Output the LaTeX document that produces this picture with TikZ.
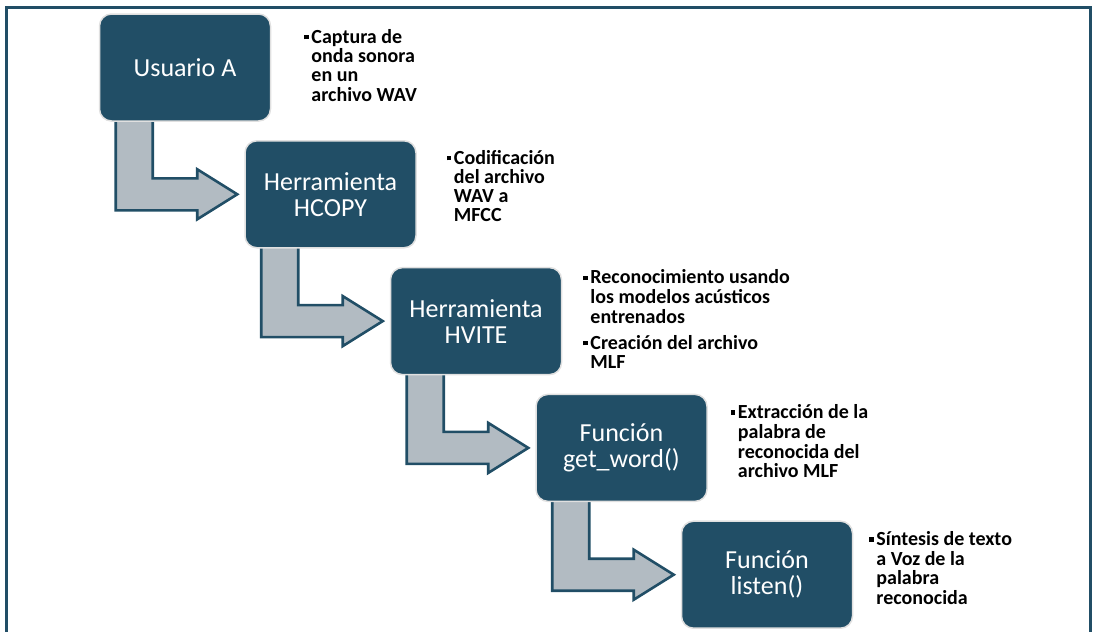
\documentclass[tikz,border=0pt]{standalone}
\usepackage{fontspec}
\setmainfont{Carlito}
\usetikzlibrary{positioning,calc,backgrounds}
\definecolor{hmmblue}{RGB}{33,78,102}
\definecolor{hmmgray}{RGB}{178,187,194}
\newcommand{\vineta}{\makebox[7pt][l]{\raisebox{3.8pt}{\rule{4.4pt}{4.4pt}}}}

\begin{document}
\begin{tikzpicture}[x=1pt,y=1pt,
  paso/.style={fill=hmmblue,draw=black!12,line width=1.5pt,rounded corners=12pt,minimum width=171pt,minimum height=107pt,align=center,text=white,font=\fontsize{26}{26}\selectfont},
  nota/.style={anchor=base west,inner sep=0pt,font=\bfseries\fontsize{20}{19}\selectfont},
  flecha/.style={draw=hmmblue,fill=hmmgray,line width=2.6pt,line join=miter}
]
  \useasboundingbox (0,0) rectangle (1093,-632);
  \draw[hmmblue,line width=3pt] (6,-632) -- (6,-7) -- (1090,-7) -- (1090,-632);

  \node[paso] (usr) at (185,-67.5) {Usuario A};
  \node[paso] (hcopy) at ([xshift=145.5pt,yshift=-126.8pt]usr.center) {Herramienta\\HCOPY};
  \node[paso] (hvite) at ([xshift=145.5pt,yshift=-126.8pt]hcopy.center) {Herramienta\\HVITE};
  \node[paso] (getw) at ([xshift=145.5pt,yshift=-126.8pt]hvite.center) {Función\\get\_word()};
  \node[paso] (listen) at ([xshift=145.5pt,yshift=-126.8pt]getw.center) {Función\\listen()};

  \node[nota] (n1) at ([xshift=33pt,yshift=-30pt]usr.north east)
    {\begin{tabular}[t]{@{}l@{}l@{}}\vineta & Captura de\\ & onda sonora\\ & en un\\ & archivo WAV\end{tabular}};
  \node[nota] (n2) at ([xshift=30pt,yshift=-24pt]hcopy.north east)
    {\begin{tabular}[t]{@{}l@{}l@{}}\vineta & Codificación\\ & del archivo\\ & WAV a\\ & MFCC\end{tabular}};
  \node[nota] (n3) at ([xshift=21pt,yshift=-17pt]hvite.north east)
    {\begin{tabular}[t]{@{}l@{}l@{}}\vineta & Reconocimiento usando\\ & los modelos acústicos\\ & entrenados\\[6pt]
     \vineta & Creación del archivo\\ & MLF\end{tabular}};
  \node[nota] (n4) at ([xshift=23pt,yshift=-25pt]getw.north east)
    {\begin{tabular}[t]{@{}l@{}l@{}}\vineta & Extracción de la\\ & palabra de\\ & reconocida del\\ & archivo MLF\end{tabular}};
  \node[nota] (n5) at ([xshift=16pt,yshift=-25pt]listen.north east)
    {\begin{tabular}[t]{@{}l@{}l@{}}\vineta & Síntesis de texto\\ & a Voz de la\\ & palabra\\ & reconocida\end{tabular}};

  % flechas en L entre pasos
  \begin{scope}[on background layer]
    \foreach \a/\b in {usr/hcopy,hcopy/hvite,hvite/getw,getw/listen}
      \draw[flecha] let \p1=(\a.south west), \p2=(\b.west) in
        (\x1+17pt,\y1+4pt) -- (\x1+54pt,\y1+4pt) -- (\x1+54pt,\y2+16pt) -- (\x2-47pt,\y2+16pt)
        -- (\x2-47pt,\y2+25pt) -- (\x2-7pt,\y2) -- (\x2-47pt,\y2-25pt) -- (\x2-47pt,\y2-16pt)
        -- (\x1+17pt,\y2-16pt) -- cycle;
  \end{scope}
\end{tikzpicture}
\end{document}
